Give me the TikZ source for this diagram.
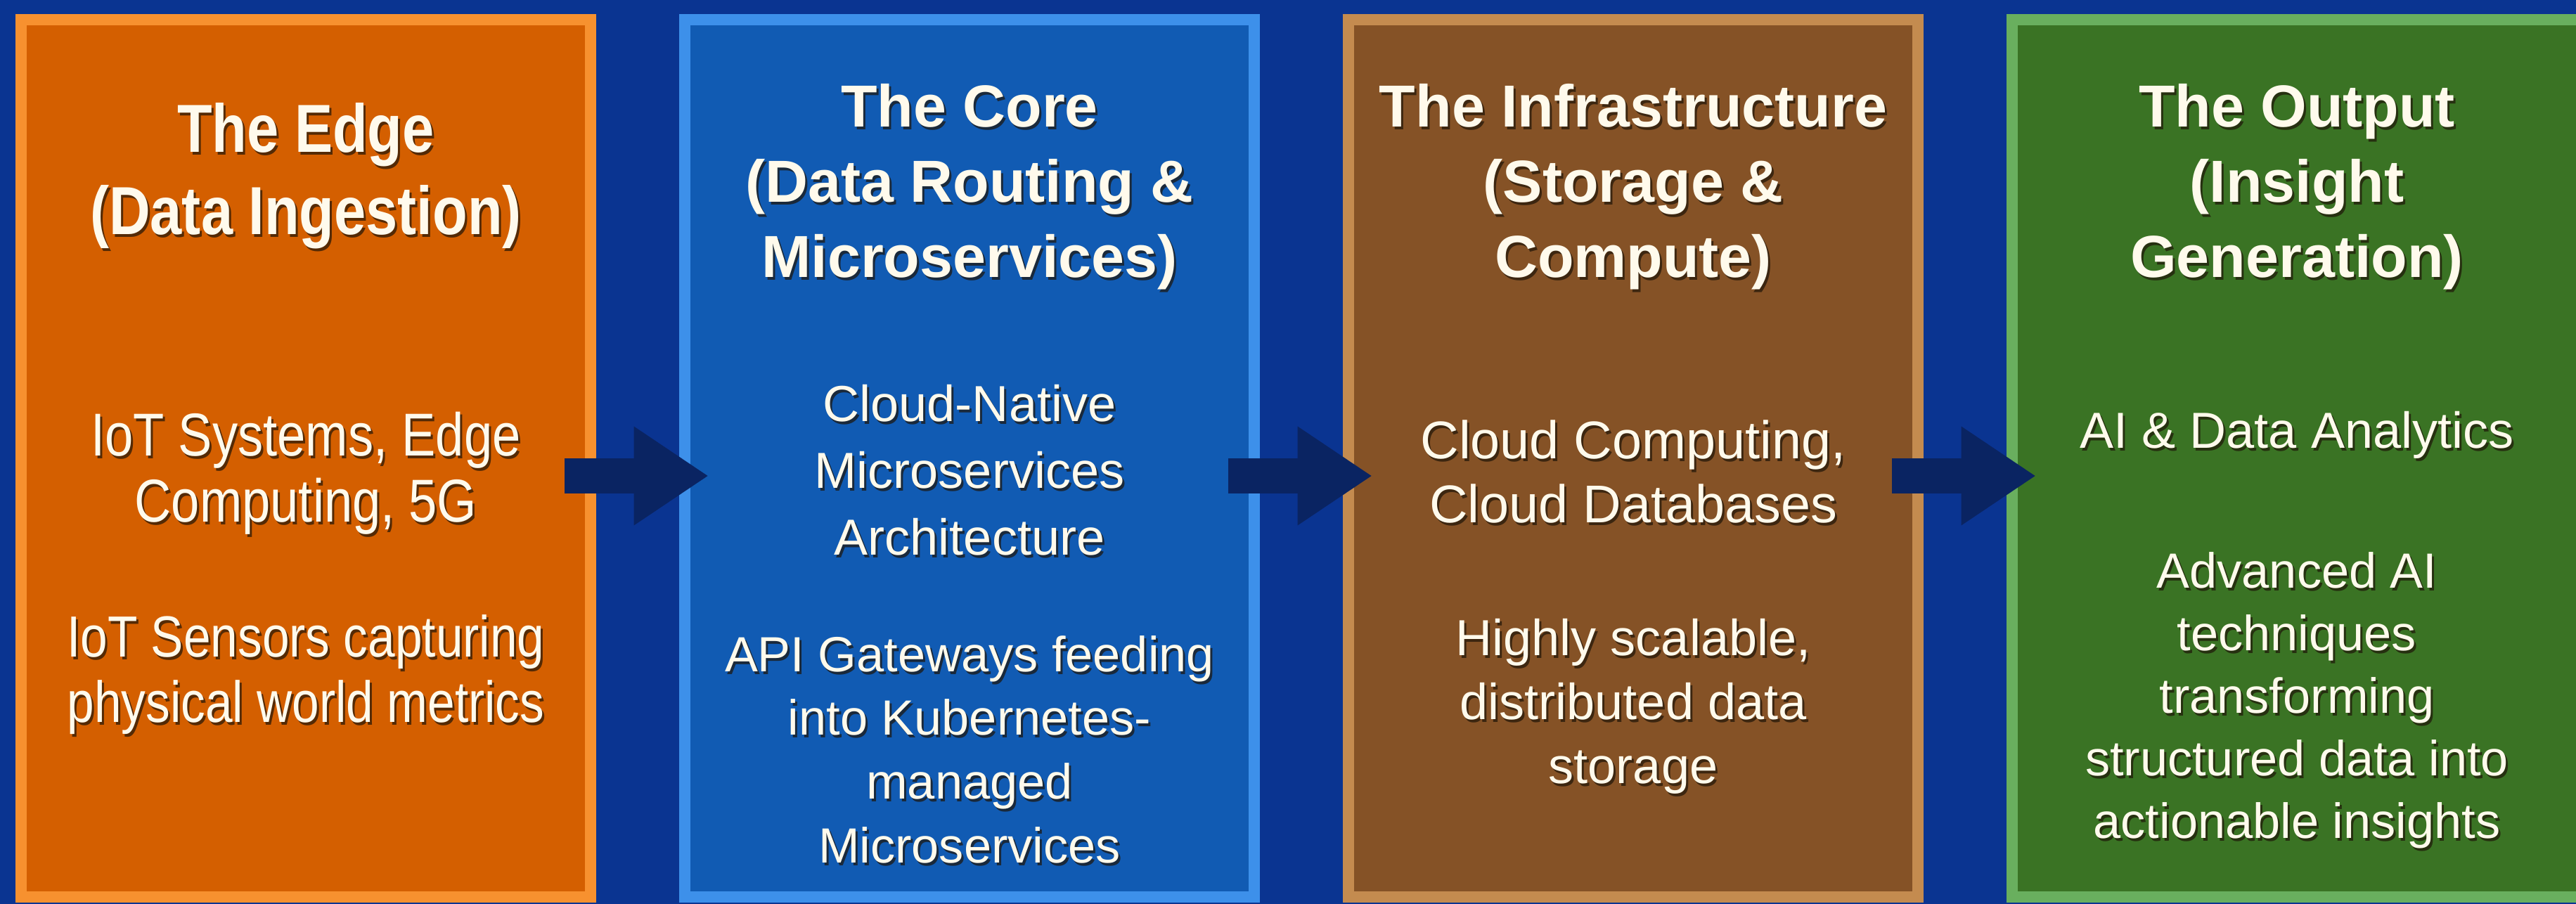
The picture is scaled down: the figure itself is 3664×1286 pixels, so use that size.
\documentclass[tikz,border=0pt]{standalone}
\usepackage{fontspec}
\setmainfont{Liberation Sans}
\newfontfamily\narrowsf{Liberation Sans}[FakeStretch=0.84]
\usetikzlibrary{arrows.meta}

\definecolor{bgblue}{HTML}{0A3491}
\definecolor{edgefill}{HTML}{D45F00}
\definecolor{edgeline}{HTML}{F7912F}
\definecolor{corefill}{HTML}{115BB3}
\definecolor{coreline}{HTML}{3D90EA}
\definecolor{infrafill}{HTML}{855226}
\definecolor{infraline}{HTML}{C48B4F}
\definecolor{outfill}{HTML}{3A7324}
\definecolor{outline}{HTML}{69AF5E}
\definecolor{arrowblue}{HTML}{0A2462}
\definecolor{textcream}{HTML}{FFFAEC}
\definecolor{shadowc}{HTML}{1E1408}

\tikzset{
	stage/.style={rectangle, minimum width=8.1cm, minimum height=12.48cm, line width=0.16cm, inner sep=0pt},
	headtext/.style={text=textcream, align=center, inner sep=0pt, font=\bfseries\fontsize{24}{30.4}\selectfont},
	bodytext/.style={text=textcream, align=center, inner sep=0pt, font=\fontsize{20.5}{25.8}\selectfont},
	flow/.style={arrowblue, line width=0.5cm, -{Triangle[length=1.06cm,width=1.33cm]}},
}

% text with a dark drop shadow: name, x,y, style, text
\newcommand{\stagetext}[4]{%
	\node[#3, text=shadowc, opacity=0.7] (#1-sh) at ([shift={(3,4)}]#2) {#4};
	\node[#3] (#1) at (#2) {#4};
}

\begin{document}
\begin{tikzpicture}[x=0.01cm, y=-0.01cm]
	\useasboundingbox (0,0) rectangle (3664,1286);
	\fill[bgblue] (0,0) rectangle (3664,1286);
	\clip (0,0) rectangle (3664,1286);
	
	%BOXES
	\node[stage, fill=edgefill, draw=edgeline] (edge) at (435,652) {};
	\node[stage, fill=corefill, draw=coreline] (core) at (1379,652) {};
	\node[stage, fill=infrafill, draw=infraline] (infra) at (2323,652) {};
	\node[stage, fill=outfill, draw=outline] (output) at (3267,652) {};
	
	%EDGE
	\stagetext{edge-title}{435,250}{headtext, font=\narrowsf\bfseries\fontsize{27.5}{33.3}\selectfont}{The Edge\\(Data Ingestion)}
	\stagetext{edge-tech}{435,673}{bodytext, font=\narrowsf\fontsize{24.5}{26.8}\selectfont}{IoT Systems, Edge\\Computing, 5G}
	\stagetext{edge-note}{435,960}{bodytext, font=\narrowsf\fontsize{23.5}{26.5}\selectfont}{IoT Sensors capturing\\physical world metrics}
	
	%CORE
	\stagetext{core-title}{1379,266}{headtext}{The Core\\(Data Routing \&\\Microservices)}
	\stagetext{core-tech}{1379,669}{bodytext, font=\fontsize{20.5}{27}\selectfont}{Cloud-Native\\Microservices\\Architecture}
	\stagetext{core-note}{1379,1066}{bodytext, font=\fontsize{20}{25.8}\selectfont}{API Gateways feeding\\into Kubernetes-\\managed\\Microservices}
	
	%INFRASTRUCTURE
	\stagetext{infra-title}{2323,266}{headtext}{The Infrastructure\\(Storage \&\\Compute)}
	\stagetext{infra-tech}{2323,671}{bodytext, font=\fontsize{21.5}{25.8}\selectfont}{Cloud Computing,\\Cloud Databases}
	\stagetext{infra-note}{2323,1005}{bodytext}{Highly scalable,\\distributed data\\storage}
	
	%OUTPUT
	\stagetext{output-title}{3267,266}{headtext}{The Output\\(Insight\\Generation)}
	\stagetext{output-tech}{3267,619}{bodytext}{AI \& Data Analytics}
	\stagetext{output-note}{3267,996}{bodytext, font=\fontsize{20}{25.3}\selectfont}{Advanced AI\\techniques\\transforming\\structured data into\\actionable insights}
	
	%ARROWS
	\draw[flow] ([shift={(-45,25)}]edge.east) -- ([shift={(42,25)}]core.west);
	\draw[flow] ([shift={(-45,25)}]core.east) -- ([shift={(42,25)}]infra.west);
	\draw[flow] ([shift={(-45,25)}]infra.east) -- ([shift={(42,25)}]output.west);
\end{tikzpicture}
\end{document}
